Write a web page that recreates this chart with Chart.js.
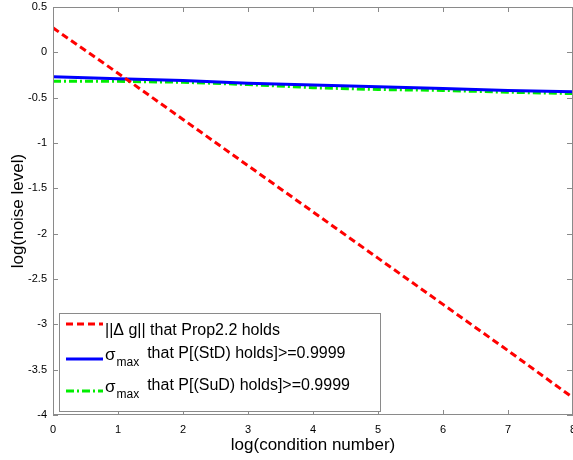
<!DOCTYPE html>
<html>
<head>
<meta charset="utf-8">
<script src="https://cdn.jsdelivr.net/npm/chart.js@4"></script>
<style>
  html, body { margin: 0; padding: 0; background: #fff; }
  #wrap { width: 573px; height: 460px; position: relative; }
</style>
</head>
<body>
<div id="wrap"><canvas id="chart"></canvas></div>
<script>
// ---- data ----
const xValues = [0, 1, 2, 3, 4, 5, 6, 7, 8];
const gradBound = [0.27, -0.23, -0.74, -1.25, -1.76, -2.27, -2.78, -3.29, -3.81];
const sigmaStD = [-0.27, -0.29, -0.31, -0.34, -0.36, -0.38, -0.40, -0.42, -0.435];
const sigmaSuD = [-0.32, -0.32, -0.33, -0.355, -0.39, -0.41, -0.42, -0.44, -0.455];
const xTicks = [0, 1, 2, 3, 4, 5, 6, 7, 8];
const yTicks = [0.5, 0, -0.5, -1, -1.5, -2, -2.5, -3, -3.5, -4];

const FONT = '"Liberation Sans", Arial, sans-serif';
const AXIS_GRAY = '#8a8a8a';

const toPoints = (ys) => xValues.map((x, i) => ({ x, y: ys[i] }));

// box round the plot + inward tick marks (matlab style)
const boxTicks = {
  id: 'boxTicks',
  afterDraw(chart) {
    const { ctx, chartArea: a, scales } = chart;
    ctx.save();
    ctx.strokeStyle = AXIS_GRAY;
    ctx.lineWidth = 1;
    ctx.strokeRect(a.left + 0.5, a.top + 0.5, a.right - a.left - 1, a.bottom - a.top - 1);
    ctx.beginPath();
    xTicks.forEach((t) => {
      const px = Math.round(scales.x.getPixelForValue(t)) + 0.5;
      ctx.moveTo(px, a.bottom); ctx.lineTo(px, a.bottom - 5);
      ctx.moveTo(px, a.top); ctx.lineTo(px, a.top + 5);
    });
    yTicks.forEach((t) => {
      const py = Math.round(scales.y.getPixelForValue(t)) + 0.5;
      ctx.moveTo(a.left, py); ctx.lineTo(a.left + 5, py);
      ctx.moveTo(a.right, py); ctx.lineTo(a.right - 6, py);
    });
    ctx.stroke();
    ctx.restore();
  },
};

// legend with sigma_max subscripts
const legendBox = {
  id: 'legendBox',
  afterDraw(chart) {
    const { ctx } = chart;
    const bx = 59, by = 313, bw = 321, bh = 98;
    ctx.save();
    ctx.fillStyle = '#fff';
    ctx.fillRect(bx, by, bw, bh);
    ctx.strokeStyle = AXIS_GRAY;
    ctx.lineWidth = 1;
    ctx.strokeRect(bx + 0.5, by + 0.5, bw, bh);

    const rows = [
      { ds: chart.data.datasets[0], ly: 324, ty: 331, sigma: false, text: '||\u0394 g|| that Prop2.2 holds' },
      { ds: chart.data.datasets[1], ly: 359, ty: 354, sigma: true, text: 'that P[(StD) holds]>=0.9999' },
      { ds: chart.data.datasets[2], ly: 391, ty: 386, sigma: true, text: 'that P[(SuD) holds]>=0.9999' },
    ];
    ctx.textBaseline = 'middle';
    ctx.fillStyle = '#000';
    rows.forEach((r) => {
      ctx.beginPath();
      ctx.strokeStyle = r.ds.borderColor;
      ctx.lineWidth = r.ds.borderWidth;
      ctx.setLineDash(r.ds.borderDash || []);
      ctx.moveTo(66, r.ly);
      ctx.lineTo(103, r.ly);
      ctx.stroke();
      ctx.setLineDash([]);
      let x = 105;
      if (r.sigma) {
        ctx.font = '17px ' + FONT;
        ctx.fillText('\u03C3', x, r.ty + 1);
        x += ctx.measureText('\u03C3').width + 1;
        ctx.font = '12px ' + FONT;
        ctx.fillText('max', x, r.ty + 9);
        x += ctx.measureText('max').width + 8;
      }
      ctx.font = '16px ' + FONT;
      ctx.fillText(r.text, x, r.ty);
    });
    ctx.restore();
  },
};

new Chart(document.getElementById('chart'), {
  type: 'line',
  data: {
    datasets: [
      {
        label: 'grad',
        data: toPoints(gradBound),
        borderColor: '#ff0000',
        borderWidth: 3,
        borderDash: [7, 4],
        pointRadius: 0,
        tension: 0,
      },
      {
        label: 'StD',
        data: toPoints(sigmaStD),
        borderColor: '#0000ff',
        borderWidth: 3,
        pointRadius: 0,
        tension: 0,
      },
      {
        label: 'SuD',
        data: toPoints(sigmaSuD),
        borderColor: '#00ee00',
        borderWidth: 3,
        borderDash: [8, 3, 2, 3],
        pointRadius: 0,
        tension: 0,
      },
    ],
  },
  options: {
    responsive: true,
    maintainAspectRatio: false,
    animation: false,
    layout: { padding: { top: 7, right: 0, left: 0, bottom: 0 } },
    plugins: { legend: { display: false }, tooltip: { enabled: false } },
    scales: {
      x: {
        type: 'linear',
        min: 0,
        max: 8,
        afterBuildTicks: (s) => { s.ticks = xTicks.map((v) => ({ value: v })); },
        afterFit: (s) => { s.height = 45; s.paddingRight = 0; s.paddingLeft = 0; },
        grid: { display: false, drawTicks: false },
        border: { display: false },
        ticks: { color: '#000', font: { family: FONT, size: 11 }, padding: 8, maxRotation: 0 },
        title: { display: true, text: 'log(condition number)', color: '#000', font: { family: FONT, size: 17 }, padding: { top: 0, bottom: 4 } },
      },
      y: {
        type: 'linear',
        min: -4,
        max: 0.5,
        afterBuildTicks: (s) => { s.ticks = yTicks.map((v) => ({ value: v })); },
        afterFit: (s) => { s.width = 53; s.paddingTop = 0; s.paddingBottom = 0; },
        grid: { display: false, drawTicks: false },
        border: { display: false },
        ticks: { color: '#000', font: { family: FONT, size: 11 }, padding: 6, callback: (v) => String(v) },
        title: { display: true, text: 'log(noise level)', color: '#000', font: { family: FONT, size: 17 }, padding: { top: 8, bottom: 0 } },
      },
    },
  },
  plugins: [boxTicks, legendBox],
});
</script>
</body>
</html>
